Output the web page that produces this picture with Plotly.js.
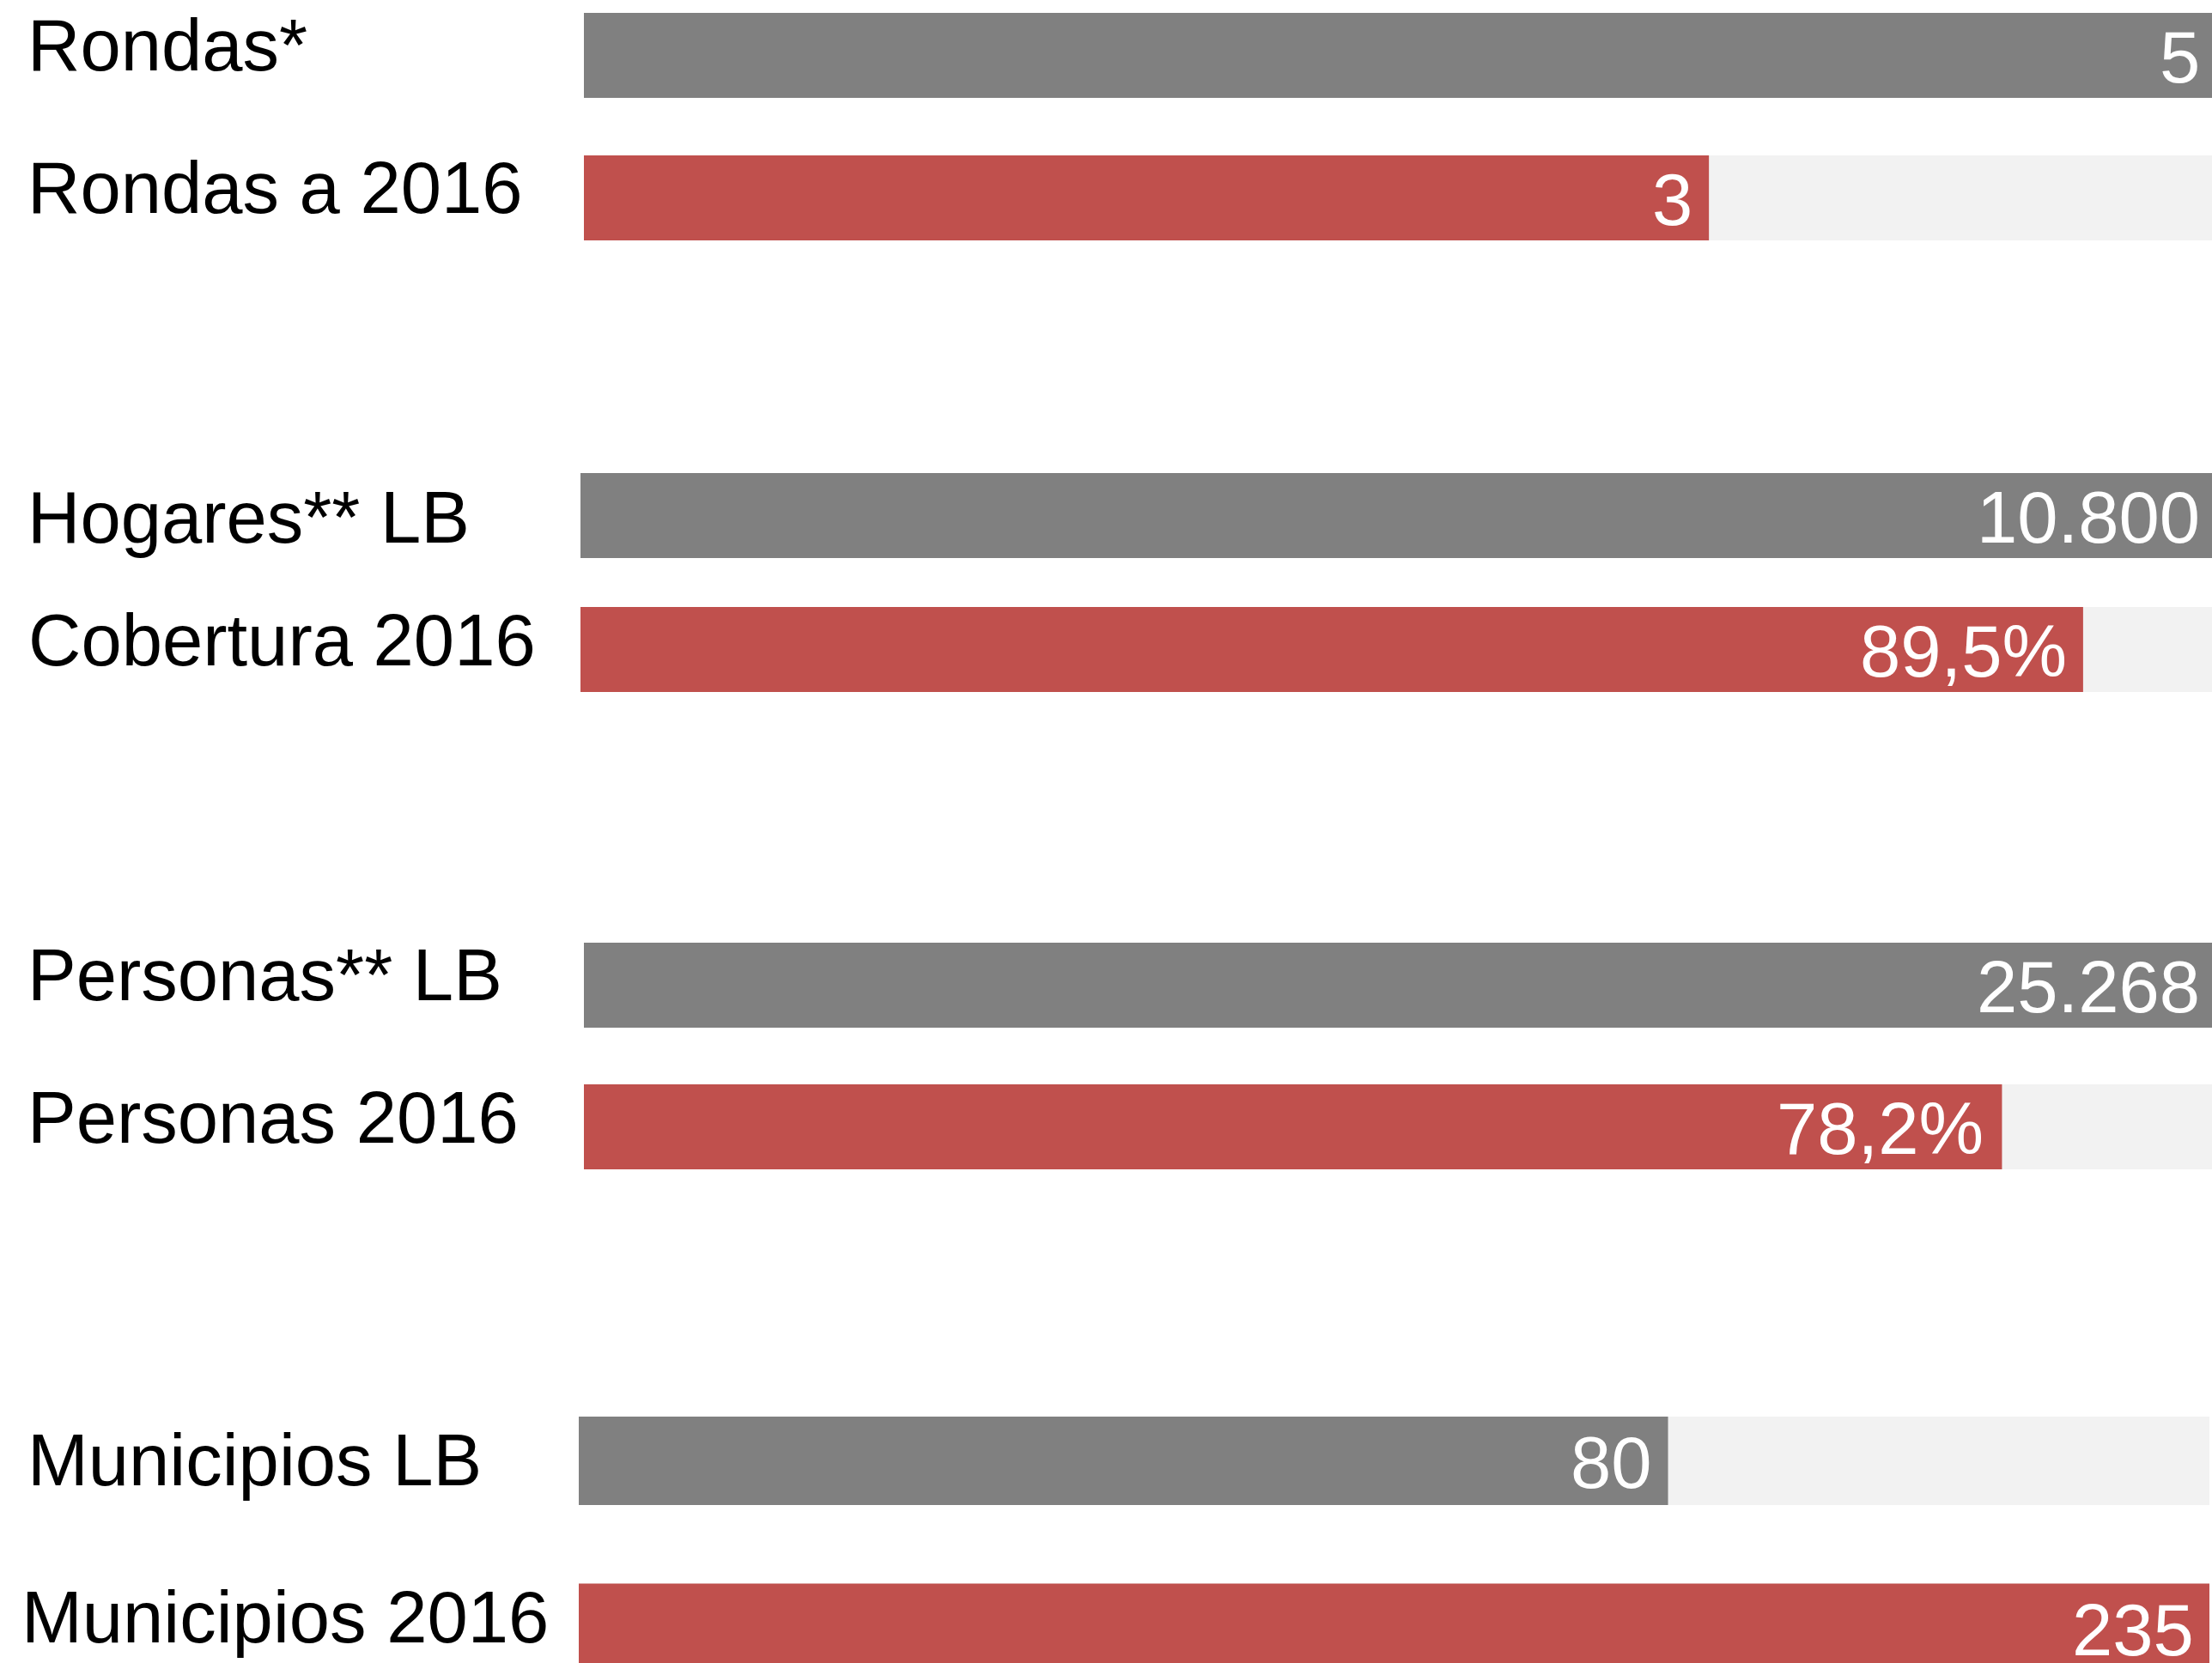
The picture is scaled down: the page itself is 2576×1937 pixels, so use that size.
<!DOCTYPE html>
<html>
<head>
<meta charset="utf-8">
<script src="https://cdn.plot.ly/plotly-3.0.1.min.js"></script>
<style>html,body{margin:0;padding:0;background:#fff;overflow:hidden}</style>
</head>
<body>
<div id="chart" style="width:2576px;height:1937px"></div>
<script>
// ---- data ----
const categories = ["Rondas*", "Rondas a 2016", "Hogares** LB", "Cobertura 2016",
                    "Personas** LB", "Personas 2016", "Municipios LB", "Municipios 2016"];
// bar length as % of the full track
const barLength = [100, 69.1, 100, 92.1, 100, 87.1, 66.8, 100];
const trackLength = [100, 100, 100, 100, 100, 100, 100, 100];
const valueLabels = ["5", "3", "10.800", "89,5%", "25.268", "78,2%", "80", "235"];
const groups = [[0, 1], [2, 3], [4, 5], [6, 7]];

// ---- layout / style ----
const W = 2576, H = 1937;
const FONT = "Liberation Sans, Arial, Helvetica, sans-serif";
const barColors = ["#808080", "#C0504D", "#808080", "#C0504D", "#808080", "#C0504D", "#808080", "#C0504D"];
const trackColor = "#F2F2F2";
const groupGeom = [
  {c1: 64.5,   c2: 230.5, h: 99,  x0: 680, x1: 2576},
  {c1: 600.5,  c2: 756.5, h: 99,  x0: 676, x1: 2576},
  {c1: 1147.5, c2: 1312.5, h: 99, x0: 680, x1: 2576},
  {c1: 1701.5, c2: 1896,  h: 103, x0: 674, x1: 2573}
];
const labelShiftY = [12, 11.5, -2, 11, 12, 11, 1, 12.5];
const labelX = [30, 30, 30, 31, 30, 30, 30, 23];
const valueShiftX = [-12, -17, -12, -17, -12, -19, -17, -16];
const valueShiftY = -2;

const traces = [];
const layout = {
  width: W, height: H,
  margin: {l: 0, r: 0, t: 0, b: 0},
  paper_bgcolor: "#ffffff", plot_bgcolor: "rgba(0,0,0,0)",
  showlegend: false, barmode: "overlay",
  font: {family: FONT},
  annotations: []
};

groups.forEach((idx, g) => {
  const s = g === 0 ? "" : String(g + 1);
  const geo = groupGeom[g];
  const u = geo.c2 - geo.c1;
  const w = geo.h / u;
  const pTop = geo.c1 - geo.h / 2;
  const pBot = Math.min(geo.c2 + geo.h / 2, H);
  const bottomVal = (pBot - geo.c1) / u;
  const cats = idx.map(i => categories[i]);

  traces.push({
    type: "bar", orientation: "h", xaxis: "x" + s, yaxis: "y" + s,
    y: cats, x: idx.map(i => trackLength[i]), width: w,
    marker: {color: trackColor}, hoverinfo: "skip"
  });
  traces.push({
    type: "bar", orientation: "h", xaxis: "x" + s, yaxis: "y" + s,
    y: cats, x: idx.map(i => barLength[i]), width: w,
    marker: {color: idx.map(i => barColors[i])}, hoverinfo: "skip"
  });

  layout["xaxis" + s] = {
    domain: [geo.x0 / W, geo.x1 / W], range: [0, 100], anchor: "y" + s,
    visible: false, fixedrange: true
  };
  layout["yaxis" + s] = {
    domain: [1 - pBot / H, 1 - pTop / H], type: "category", categoryarray: cats,
    categoryorder: "array", range: [bottomVal, -w / 2], anchor: "x" + s,
    visible: false, fixedrange: true
  };

  idx.forEach(i => {
    layout.annotations.push({
      xref: "paper", x: labelX[i] / W, xanchor: "left",
      yref: "y" + s, y: categories[i], yanchor: "middle", yshift: labelShiftY[i],
      text: categories[i], showarrow: false,
      font: {family: FONT, size: 85, color: "#000000"}
    });
    layout.annotations.push({
      xref: "x" + s, x: barLength[i], xanchor: "right", xshift: valueShiftX[i],
      yref: "y" + s, y: categories[i], yanchor: "middle", yshift: valueShiftY,
      text: valueLabels[i], showarrow: false,
      font: {family: FONT, size: 85, color: "#ffffff"}
    });
  });
});

Plotly.newPlot("chart", traces, layout, {displayModeBar: false, staticPlot: true});
</script>
</body>
</html>
